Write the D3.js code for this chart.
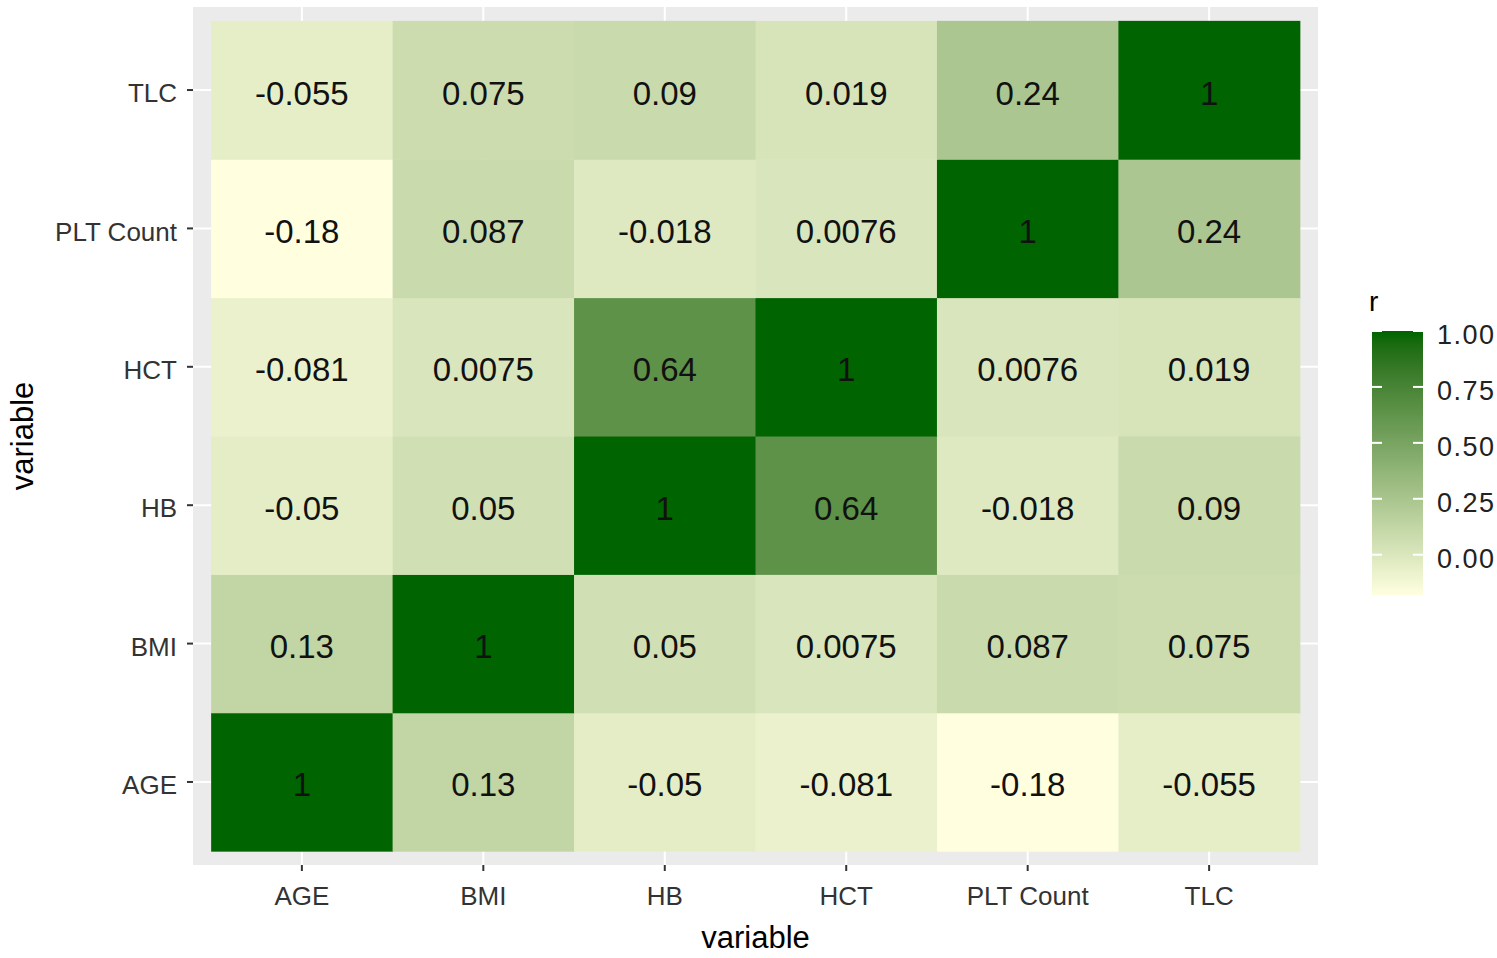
<!DOCTYPE html>
<html>
<head>
<meta charset="utf-8">
<script src="https://cdn.jsdelivr.net/npm/d3@7"></script>
<style>
  body { margin: 0; background: #fff; }
  text { font-family: "Liberation Sans", Arial, sans-serif; }
</style>
</head>
<body>
<div id="chart"></div>
<script>
// variables (x order left→right, y order bottom→top)
const variables = ["AGE", "BMI", "HB", "HCT", "PLT Count", "TLC"];

// correlation rows, one per variable, same order as variables
const rAGE = [1, 0.13, -0.05, -0.081, -0.18, -0.055];
const rBMI = [0.13, 1, 0.05, 0.0075, 0.087, 0.075];
const rHB  = [-0.05, 0.05, 1, 0.64, -0.018, 0.09];
const rHCT = [-0.081, 0.0075, 0.64, 1, 0.0076, 0.019];
const rPLT = [-0.18, 0.087, -0.018, 0.0076, 1, 0.24];
const rTLC = [-0.055, 0.075, 0.09, 0.019, 0.24, 1];

const legendTicks = [0, 0.25, 0.5, 0.75, 1];

const rows = [rAGE, rBMI, rHB, rHCT, rPLT, rTLC];
const cells = [];
rows.forEach((row, i) => {
    row.forEach((v, j) => {
        cells.push({x: variables[j], y: variables[i], r: v});
    });
});

const W = 1497, H = 958;
const panel = {left: 193, right: 1318, top: 7, bottom: 865};

const svg = d3.select("#chart").append("svg")
    .attr("width", W)
    .attr("height", H);

// band scales; outer padding leaves the grey margin round the tiles
const x = d3.scaleBand()
    .domain(variables)
    .range([panel.left, panel.right])
    .paddingInner(0)
    .paddingOuter(0.1);

const y = d3.scaleBand()
    .domain(variables.slice().reverse())
    .range([panel.top, panel.bottom])
    .paddingInner(0)
    .paddingOuter(0.1);

const rExtent = d3.extent(cells, d => d.r);
const color = d3.scaleLinear()
    .domain(rExtent)
    .range(["lightyellow", "darkgreen"])
    .interpolate(d3.interpolateLab);

// panel background
svg.append("rect")
    .attr("x", panel.left)
    .attr("y", panel.top)
    .attr("width", panel.right - panel.left)
    .attr("height", panel.bottom - panel.top)
    .attr("fill", "#EBEBEB");

// grid lines
svg.selectAll(".vgrid")
    .data(variables)
    .enter()
    .append("line")
    .attr("x1", d => x(d) + x.bandwidth() / 2)
    .attr("x2", d => x(d) + x.bandwidth() / 2)
    .attr("y1", panel.top)
    .attr("y2", panel.bottom)
    .attr("stroke", "#fff")
    .attr("stroke-width", 2);

svg.selectAll(".hgrid")
    .data(variables)
    .enter()
    .append("line")
    .attr("y1", d => y(d) + y.bandwidth() / 2)
    .attr("y2", d => y(d) + y.bandwidth() / 2)
    .attr("x1", panel.left)
    .attr("x2", panel.right)
    .attr("stroke", "#fff")
    .attr("stroke-width", 2);

// tiles
svg.selectAll(".tile")
    .data(cells)
    .enter()
    .append("rect")
    .attr("class", "tile")
    .attr("x", d => x(d.x))
    .attr("y", d => y(d.y))
    .attr("width", x.bandwidth() + 0.5)
    .attr("height", y.bandwidth() + 0.5)
    .attr("fill", d => color(d.r));

// cell labels
svg.selectAll(".lab")
    .data(cells)
    .enter()
    .append("text")
    .attr("x", d => x(d.x) + x.bandwidth() / 2)
    .attr("y", d => y(d.y) + y.bandwidth() / 2 + 3)
    .attr("text-anchor", "middle")
    .attr("dominant-baseline", "central")
    .attr("font-size", 33)
    .attr("fill", "#111")
    .text(d => String(d.r));

// axes
const xAxis = svg.append("g")
    .attr("transform", `translate(0,${panel.bottom})`)
    .call(d3.axisBottom(x).tickSize(6).tickPadding(9));
const yAxis = svg.append("g")
    .attr("transform", `translate(${panel.left},3)`)
    .call(d3.axisLeft(y).tickSize(6).tickPadding(10));
yAxis.selectAll(".tick line").attr("transform", "translate(0,-3)");

[xAxis, yAxis].forEach(g => {
    g.select(".domain").remove();
    g.selectAll(".tick line").attr("stroke", "#333").attr("stroke-width", 2);
    g.selectAll(".tick text")
        .attr("font-size", 26)
        .attr("fill", "#333")
        .style("font-family", "Liberation Sans, Arial, sans-serif");
});
xAxis.selectAll(".tick text").attr("dy", "0.95em");
yAxis.selectAll(".tick text").attr("dy", "0.35em");

// axis titles
svg.append("text")
    .attr("x", (panel.left + panel.right) / 2)
    .attr("y", 948)
    .attr("text-anchor", "middle")
    .attr("font-size", 31)
    .attr("fill", "#000")
    .text("variable");

svg.append("text")
    .attr("transform", `translate(33,${(panel.top + panel.bottom) / 2}) rotate(-90)`)
    .attr("text-anchor", "middle")
    .attr("font-size", 31)
    .attr("fill", "#000")
    .text("variable");

// legend colourbar
const leg = {x: 1372, w: 51};
const ly = d3.scaleLinear()
    .domain(rExtent)
    .range([595, 331]);

const defs = svg.append("defs");
const grad = defs.append("linearGradient")
    .attr("id", "rgrad")
    .attr("x1", 0).attr("y1", 1)
    .attr("x2", 0).attr("y2", 0);
d3.range(0, 1.0001, 0.05).forEach(t => {
    const v = rExtent[0] + t * (rExtent[1] - rExtent[0]);
    grad.append("stop")
        .attr("offset", t)
        .attr("stop-color", color(v));
});

svg.append("rect")
    .attr("x", leg.x)
    .attr("y", ly(rExtent[1]))
    .attr("width", leg.w)
    .attr("height", ly(rExtent[0]) - ly(rExtent[1]))
    .attr("fill", "url(#rgrad)");

const lt = svg.selectAll(".ltick")
    .data(legendTicks)
    .enter()
    .append("g");
lt.append("line")
    .attr("x1", leg.x).attr("x2", leg.x + 10)
    .attr("y1", d => ly(d)).attr("y2", d => ly(d))
    .attr("stroke", "#fff").attr("stroke-width", 2);
lt.append("line")
    .attr("x1", leg.x + leg.w - 10).attr("x2", leg.x + leg.w)
    .attr("y1", d => ly(d)).attr("y2", d => ly(d))
    .attr("stroke", "#fff").attr("stroke-width", 2);
lt.append("text")
    .attr("x", 1437)
    .attr("y", d => ly(d) + 4)
    .attr("dominant-baseline", "central")
    .attr("font-size", 27)
    .attr("letter-spacing", 1.5)
    .attr("fill", "#222")
    .text(d => d3.format(".2f")(d));

svg.append("text")
    .attr("x", 1369)
    .attr("y", 311)
    .attr("font-size", 28)
    .attr("fill", "#000")
    .text("r");
</script>
</body>
</html>
